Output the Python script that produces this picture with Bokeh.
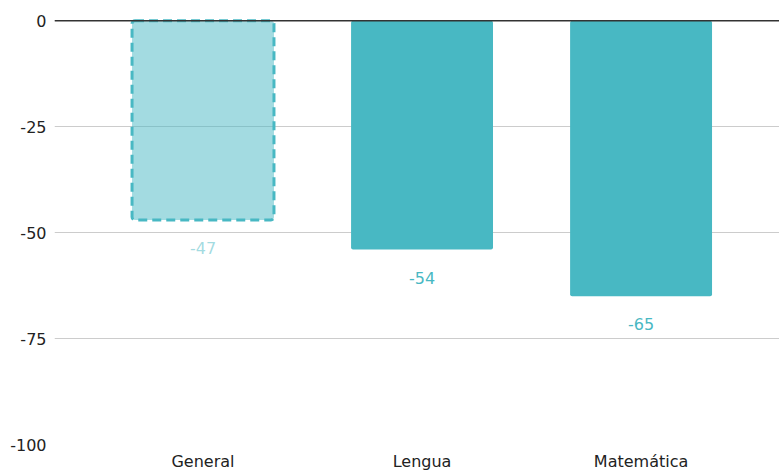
from bokeh.plotting import figure
from bokeh.models import ColumnDataSource, Range1d, FixedTicker, Span
from bokeh.core.properties import value
from bokeh.embed import file_html
from bokeh.resources import INLINE

# Data
categories = ["General", "Lengua", "Matemática"]
values = [-47, -54, -65]
y_ticks = [0, -25, -50, -75, -100]

TEAL = "#48b8c3"
FONT = "DejaVu Sans"

xs = list(range(len(categories)))
labels = [str(v) for v in values]

# first bar is drawn translucent with a dashed outline
text_alphas = [0.5, 1.0, 1.0]

source = ColumnDataSource(dict(x=xs, top=values, label=labels, text_alpha=text_alphas))

p = figure(width=779, height=473, output_backend="svg", toolbar_location=None,
           x_range=Range1d(-0.678, 2.632), y_range=Range1d(-100, 1),
           min_border_left=54, min_border_right=0, min_border_top=16,
           min_border_bottom=27)
p.outline_line_color = None
p.background_fill_color = "white"
p.border_fill_color = "white"

# grid
p.xgrid.grid_line_color = None
p.ygrid.grid_line_color = "#cccccc"
p.ygrid.grid_line_width = 1

# axes
p.yaxis.ticker = FixedTicker(ticks=y_ticks)
p.yaxis.major_label_overrides = {t: str(t) for t in y_ticks}
p.xaxis.ticker = FixedTicker(ticks=xs)
p.xaxis.major_label_overrides = {i: c for i, c in enumerate(categories)}
for ax in (p.xaxis[0], p.yaxis[0]):
    ax.axis_line_color = None
    ax.major_tick_line_color = None
    ax.minor_tick_line_color = None
    ax.major_tick_out = 0
    ax.major_tick_in = 0
    ax.minor_tick_out = 0
    ax.major_label_text_font = FONT
    ax.major_label_text_font_size = "16px"
    ax.major_label_text_color = "#222222"
p.yaxis.major_label_standoff = 8
p.xaxis.major_label_standoff = 7

# opaque bars
solid = ColumnDataSource(dict(x=xs[1:], top=values[1:]))
p.vbar(x="x", top="top", bottom=0, width=0.648, source=solid,
       fill_color=TEAL, line_color=None, border_radius=2)

# translucent dashed bar
light = ColumnDataSource(dict(x=xs[:1], top=values[:1]))
p.vbar(x="x", top="top", bottom=0, width=0.648, source=light,
       fill_color=TEAL, fill_alpha=0.5, line_color=TEAL, line_width=3,
       line_dash="9 5", border_radius=3)

# zero baseline
p.add_layout(Span(location=0, dimension="width", line_color="#333333", line_width=1.5))

# value labels below each bar
p.text(x="x", y="top", text="label", source=source, text_align="center",
       text_baseline="middle", y_offset=28, text_color=TEAL,
       text_alpha="text_alpha", text_font=value(FONT), text_font_size="16px")

open("out.html", "w").write(file_html(p, INLINE))
